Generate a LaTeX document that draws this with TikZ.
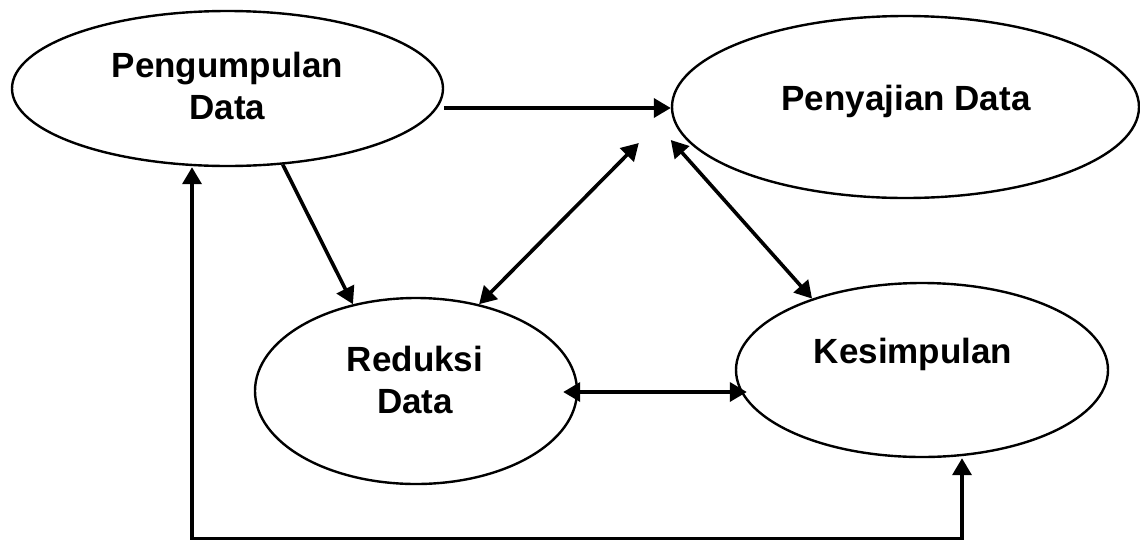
\documentclass[tikz,border=0pt]{standalone}
\usepackage{fontspec}
\setmainfont{Liberation Sans}
\usetikzlibrary{shapes.geometric,arrows.meta}
\begin{document}
\begin{tikzpicture}[x=1pt,y=-1pt,
  ell/.style={ellipse,draw,line width=2.4pt,inner sep=0pt},
  txt/.style={font=\bfseries\fontsize{35}{42}\selectfont,align=center,inner sep=0pt},
  arr/.style={line width=3.6pt},
  >={Triangle[length=17pt,width=19pt]}]
\useasboundingbox (0,0) rectangle (1140,539);
% ellipses
\node[ell,minimum width=431pt,minimum height=155pt] (pd) at (227.5,88.5) {};
\node[ell,minimum width=467pt,minimum height=182pt] (ps) at (905.5,107) {};
\node[ell,minimum width=322pt,minimum height=186pt] (rd) at (416,391) {};
\node[ell,minimum width=372pt,minimum height=174pt] (ks) at (922,370) {};
% texts
\node[txt] (pdt) at (227.5,86) {Pengumpulan\\Data};
\node[txt,anchor=base] (pst) at (906,110) {Penyajian Data};
\node[txt] (rdt) at (415,380) {Reduksi\\Data};
\node[txt,anchor=base] (kst) at (913,363) {Kesimpulan};
% connectors
\draw[arr,->] ([yshift=-19.5pt]pd.east) -- ([yshift=-1pt]ps.west);
\draw[arr,->] (pd.-54) -- (rd.126);
\draw[arr,<->] (rd.54) -- ([xshift=-32pt,yshift=-36pt]ps.west);
\draw[arr,<->] ([yshift=-33pt]ps.west) -- (ks.147);
\draw[arr,<->] ([xshift=-15pt,yshift=-1pt]rd.east) -- ([xshift=12pt,yshift=-22pt]ks.west);
\coordinate (bl) at (192,539);
\coordinate (br) at (962,539);
\draw[arr,<->] (pd.south -| bl) -- (bl) -- (br) -- (ks.south -| br);
\end{tikzpicture}
\end{document}
